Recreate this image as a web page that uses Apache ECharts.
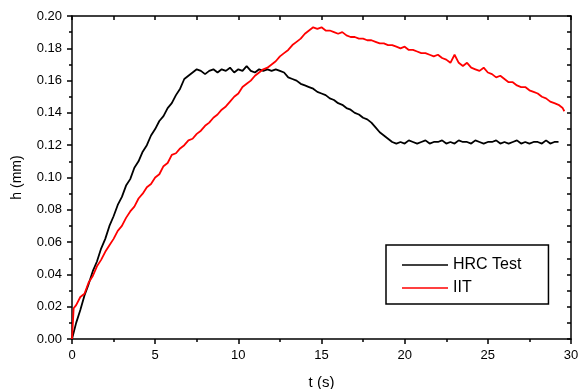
<!DOCTYPE html>
<html>
<head>
<meta charset="utf-8">
<script src="https://cdn.jsdelivr.net/npm/echarts@6/dist/echarts.min.js"></script>
<style>html,body{margin:0;padding:0;background:#fff}#c{width:578px;height:389px}</style>
</head>
<body>
<div id="c"></div>
<script>
var seriesNames = ['HRC Test', 'IIT'];
var xTicks = [0, 5, 10, 15, 20, 25, 30];
var yTicks = [0.00, 0.02, 0.04, 0.06, 0.08, 0.10, 0.12, 0.14, 0.16, 0.18, 0.20];

var hrcT = [0,0.25,0.5,0.75,1,1.25,1.5,1.75,2,2.25,2.5,2.75,3,3.25,3.5,3.75,4,4.25,4.5,4.75,
5,5.25,5.5,5.75,6,6.25,6.5,6.75,7,7.25,7.5,7.75,8,8.25,8.5,8.75,9,9.25,9.5,9.75,
10,10.25,10.5,10.75,11,11.25,11.5,11.75,12,12.25,12.5,12.75,13,13.25,13.5,13.75,14,14.25,14.5,14.75,
15,15.25,15.5,15.75,16,16.25,16.5,16.75,17,17.25,17.5,17.75,18,18.25,18.5,18.75,19,19.25,19.5,19.75,
20,20.25,20.5,20.75,21,21.25,21.5,21.75,22,22.25,22.5,22.75,23,23.25,23.5,23.75,24,24.25,24.5,24.75,
25,25.25,25.5,25.75,26,26.25,26.5,26.75,27,27.25,27.5,27.75,28,28.25,28.5,28.75,29,29.25];
var hrcH = [0.000,0.010,0.018,0.027,0.034,0.042,0.048,0.056,0.062,0.070,0.076,0.083,0.088,0.095,0.099,0.106,0.110,0.116,0.120,0.126,
0.130,0.135,0.138,0.143,0.146,0.151,0.155,0.161,0.163,0.165,0.167,0.166,0.164,0.166,0.167,0.165,0.167,0.166,0.168,0.165,
0.167,0.166,0.169,0.166,0.165,0.167,0.166,0.167,0.166,0.167,0.166,0.165,0.162,0.161,0.160,0.158,0.157,0.156,0.155,0.153,
0.152,0.151,0.149,0.148,0.146,0.145,0.143,0.142,0.140,0.139,0.137,0.136,0.134,0.131,0.128,0.126,0.124,0.122,0.121,0.122,
0.121,0.123,0.122,0.121,0.122,0.123,0.121,0.122,0.122,0.123,0.121,0.122,0.121,0.123,0.122,0.122,0.121,0.123,0.122,0.121,
0.122,0.122,0.123,0.121,0.122,0.121,0.122,0.123,0.121,0.122,0.121,0.122,0.122,0.121,0.123,0.121,0.122,0.122];

var iitT = [0,0.1,0.25,0.5,0.75,1,1.25,1.5,1.75,2,2.25,2.5,2.75,3,3.25,3.5,3.75,4,4.25,4.5,4.75,
5,5.25,5.5,5.75,6,6.25,6.5,6.75,7,7.25,7.5,7.75,8,8.25,8.5,8.75,9,9.25,9.5,9.75,
10,10.25,10.5,10.75,11,11.25,11.5,11.75,12,12.25,12.5,12.75,13,13.25,13.5,13.75,14,14.25,14.5,14.75,
15,15.25,15.5,15.75,16,16.25,16.5,16.75,17,17.25,17.5,17.75,18,18.25,18.5,18.75,19,19.25,19.5,19.75,
20,20.25,20.5,20.75,21,21.25,21.5,21.75,22,22.25,22.5,22.75,23,23.25,23.5,23.75,24,24.25,24.5,24.75,
25,25.25,25.5,25.75,26,26.25,26.5,26.75,27,27.25,27.5,27.75,28,28.25,28.5,28.75,29,29.25,29.5,29.6];
var iitH = [0.000,0.019,0.021,0.026,0.028,0.035,0.039,0.045,0.049,0.054,0.058,0.062,0.067,0.070,0.075,0.079,0.082,0.087,0.090,0.094,0.096,
0.100,0.102,0.107,0.109,0.114,0.115,0.118,0.120,0.123,0.124,0.127,0.129,0.132,0.134,0.137,0.139,0.142,0.144,0.147,0.150,
0.152,0.156,0.158,0.160,0.163,0.165,0.167,0.168,0.170,0.172,0.175,0.177,0.179,0.182,0.184,0.186,0.189,0.191,0.193,0.192,
0.193,0.191,0.191,0.190,0.189,0.190,0.188,0.187,0.187,0.186,0.186,0.185,0.185,0.184,0.183,0.183,0.182,0.182,0.181,0.180,
0.181,0.179,0.179,0.178,0.177,0.177,0.176,0.175,0.176,0.174,0.173,0.171,0.176,0.171,0.169,0.171,0.168,0.167,0.166,0.168,
0.165,0.164,0.162,0.163,0.161,0.159,0.159,0.157,0.156,0.156,0.154,0.153,0.152,0.150,0.149,0.147,0.146,0.145,0.143,0.141];

function pairs(t, h) { var out = []; for (var i = 0; i < t.length; i++) out.push([t[i], h[i]]); return out; }

var FONT = 'Liberation Sans, Arial, sans-serif';
var axisLineStyle = { color: '#000', width: 1.5 };

var chart = echarts.init(document.getElementById('c'), null, { renderer: 'canvas' });
chart.setOption({
  backgroundColor: '#fff',
  animation: false,
  grid: { left: 72, right: 7, top: 16, bottom: 50, containLabel: false, outerBoundsMode: 'none' },
  legend: {
    orient: 'vertical',
    left: 386, top: 245,
    data: seriesNames,
    itemWidth: 46, itemHeight: 16, itemGap: 7,
    padding: [12, 27, 8, 16],
    borderColor: '#000', borderWidth: 1.5, borderRadius: 0,
    backgroundColor: '#fff',
    textStyle: { fontFamily: FONT, fontSize: 16, color: '#000', padding: [0, 0, 0, 0] },
    icon: 'path://M0,0 L46,0 L46,1.5 L0,1.5 Z'
  },
  xAxis: [{
    type: 'value', min: xTicks[0], max: xTicks[xTicks.length - 1], interval: 5,
    position: 'bottom',
    name: 't (s)', nameLocation: 'middle', nameGap: 36,
    nameTextStyle: { fontFamily: FONT, fontSize: 15, color: '#000' },
    axisLine: { show: true, onZero: false, lineStyle: axisLineStyle },
    axisTick: { show: true, inside: false, length: 5, lineStyle: { color: '#000', width: 1.5 } },
    minorTick: { show: true, splitNumber: 2, length: 3, lineStyle: { color: '#000', width: 1.5 } },
    axisLabel: { fontFamily: FONT, fontSize: 13, color: '#000', margin: 10 },
    splitLine: { show: false }
  }, {
    type: 'value', min: 0, max: 30, interval: 2.5, position: 'top',
    axisLine: { show: true, onZero: false, lineStyle: axisLineStyle },
    axisTick: { show: true, inside: true, length: 4, lineStyle: { color: '#000', width: 1.5 } },
    axisLabel: { show: false }, splitLine: { show: false }
  }],
  yAxis: [{
    type: 'value', min: yTicks[0], max: yTicks[yTicks.length - 1], interval: 0.02,
    position: 'left',
    name: 'h (mm)', nameLocation: 'middle', nameGap: 48, nameRotate: 90,
    nameTextStyle: { fontFamily: FONT, fontSize: 14, color: '#000' },
    axisLine: { show: true, onZero: false, lineStyle: axisLineStyle },
    axisTick: { show: true, inside: false, length: 5, lineStyle: { color: '#000', width: 1.5 } },
    minorTick: { show: true, splitNumber: 2, length: 3, lineStyle: { color: '#000', width: 1.5 } },
    axisLabel: { fontFamily: FONT, fontSize: 13, color: '#000', margin: 10,
      formatter: function (v) { return v.toFixed(2); } },
    splitLine: { show: false }
  }, {
    type: 'value', min: 0, max: 0.2, interval: 0.01, position: 'right',
    axisLine: { show: true, onZero: false, lineStyle: axisLineStyle },
    axisTick: { show: true, inside: true, length: 4, lineStyle: { color: '#000', width: 1.5 } },
    axisLabel: { show: false }, splitLine: { show: false }
  }],
  series: [{
    name: seriesNames[0], type: 'line', xAxisIndex: 0, yAxisIndex: 0,
    data: pairs(hrcT, hrcH), showSymbol: false, symbol: 'none',
    lineStyle: { color: '#000', width: 1.8 }, itemStyle: { color: '#000' }
  }, {
    name: seriesNames[1], type: 'line', xAxisIndex: 0, yAxisIndex: 0,
    data: pairs(iitT, iitH), showSymbol: false, symbol: 'none',
    lineStyle: { color: '#ff0000', width: 1.8 }, itemStyle: { color: '#ff0000' }
  }]
});
</script>
</body>
</html>
